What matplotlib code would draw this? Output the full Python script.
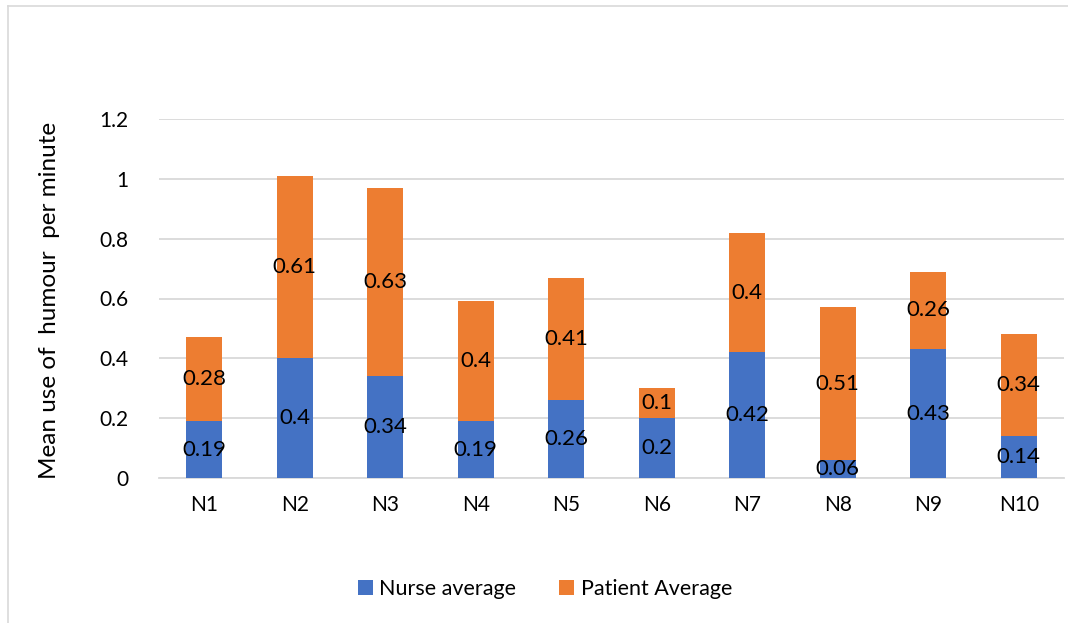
import numpy as np
import matplotlib.pyplot as plt
from matplotlib.lines import Line2D

plt.rcParams['font.family'] = ['Lato', 'DejaVu Sans']

# Mean humour use per minute for each nurse
nurses = ['N1', 'N2', 'N3', 'N4', 'N5', 'N6', 'N7', 'N8', 'N9', 'N10']
nurse_avg = [0.19, 0.4, 0.34, 0.19, 0.26, 0.2, 0.42, 0.06, 0.43, 0.14]
patient_avg = [0.28, 0.61, 0.63, 0.4, 0.41, 0.1, 0.4, 0.51, 0.26, 0.34]

blue = '#4472C4'
orange = '#ED7D31'

fig = plt.figure(figsize=(10.68, 6.23), dpi=100)
ax = fig.add_axes([159 / 1068, 1 - 478 / 623, (1064 - 159) / 1068, (478 - 119) / 623])

x = np.arange(len(nurses))
b1 = ax.bar(x, nurse_avg, width=0.4, color=blue, label='Nurse average', zorder=3)
b2 = ax.bar(x, patient_avg, width=0.4, bottom=nurse_avg, color=orange,
            label='Patient Average', zorder=3)

# Value labels in the middle of each segment
for i in range(len(nurses)):
    ax.text(x[i], nurse_avg[i] / 2, f'{nurse_avg[i]:g}', ha='center', va='center',
            fontsize=16, color='black', zorder=4)
    ax.text(x[i], nurse_avg[i] + patient_avg[i] / 2, f'{patient_avg[i]:g}',
            ha='center', va='center', fontsize=16, color='black', zorder=4)

ax.set_xlim(-0.5, len(nurses) - 0.5)
ax.set_ylim(0, 1.2)
ax.set_yticks([0, 0.2, 0.4, 0.6, 0.8, 1.0, 1.2])
ax.set_yticklabels(['0', '0.2', '0.4', '0.6', '0.8', '1', '1.2'])
ax.set_xticks(x)
ax.set_xticklabels(nurses)
ax.tick_params(axis='both', length=0, labelsize=15, colors='black')
ax.tick_params(axis='y', pad=22)
ax.tick_params(axis='x', pad=12)
ax.grid(axis='y', color='#d9d9d9', linewidth=1.3, zorder=0)
for s in ['top', 'right', 'left']:
    ax.spines[s].set_visible(False)
ax.spines['bottom'].set_color('#d9d9d9')
ax.spines['bottom'].set_linewidth(1.3)

fig.text(50 / 1068, 1 - 300 / 623, 'Mean use of  humour  per minute', rotation=90,
         ha='center', va='center', fontsize=17.5)

fig.legend(handles=[b1, b2], loc='center', bbox_to_anchor=(545 / 1068, 1 - 589 / 623),
           ncol=2, frameon=False, fontsize=15.5, handlelength=0.7, handleheight=0.7,
           columnspacing=2.0, handletextpad=0.3)

# Chart area border
fig.add_artist(Line2D([8 / 1068, 1], [1 - 5.5 / 623, 1 - 5.5 / 623], color='#d9d9d9', lw=1.2))
fig.add_artist(Line2D([8 / 1068, 8 / 1068], [0, 1 - 5.5 / 623], color='#d9d9d9', lw=1.2))

fig.savefig('out.png', dpi=100, facecolor='white')
